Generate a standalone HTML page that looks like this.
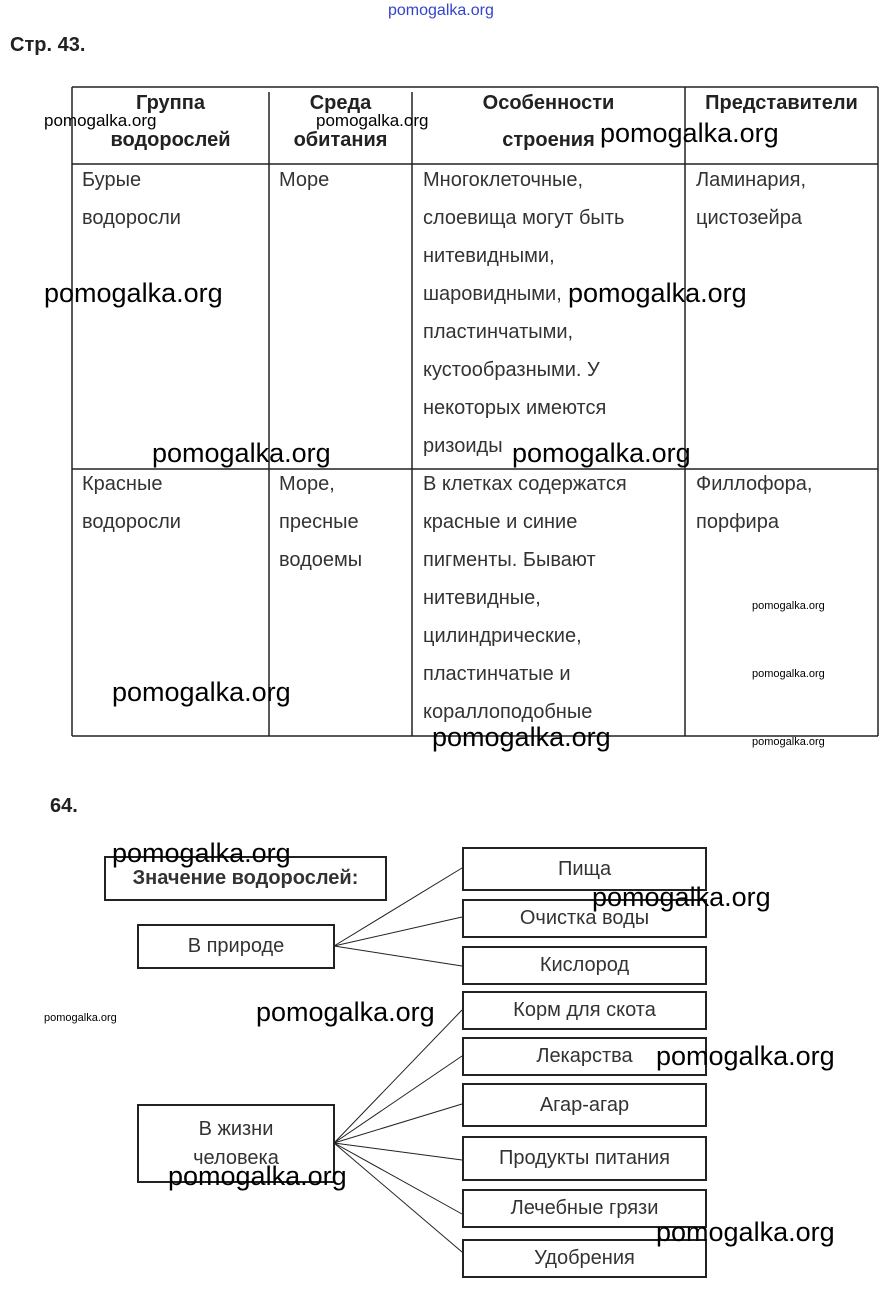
<!DOCTYPE html>
<html><head><meta charset="utf-8"><style>
body{margin:0;background:#fff;}
#p{position:relative;width:890px;height:1294px;overflow:hidden;font-family:"Liberation Sans",sans-serif;color:#222;}
.a{position:absolute;white-space:nowrap;}
.t{font-size:20px;line-height:38px;color:#333;}
.h{font-size:20px;line-height:37px;font-weight:bold;color:#222;text-align:center;}
.w{font-size:27px;color:#000;line-height:30px;}
.ws{font-size:17px;color:#000;line-height:20px;}
.wt{font-size:11px;color:#000;line-height:14px;}
.b{position:absolute;border:2px solid #222;box-sizing:border-box;font-size:20px;color:#333;display:flex;align-items:center;justify-content:center;text-align:center;}
</style></head><body><div id="p">
<div class="a" style="left:388px;top:2px;font-size:16px;color:#3344cc;">pomogalka.org</div>
<div class="a" style="left:10px;top:34px;font-size:20px;font-weight:bold;">Стр. 43.</div>

<svg class="a" style="left:0;top:0" width="890" height="800">
<g stroke="#222" stroke-width="1.5">
<line x1="72" y1="87" x2="878" y2="87"/>
<line x1="72" y1="164" x2="878" y2="164"/>
<line x1="72" y1="469" x2="878" y2="469"/>
<line x1="72" y1="736" x2="878" y2="736"/>
<line x1="72" y1="87" x2="72" y2="736"/>
<line x1="269" y1="92" x2="269" y2="736"/>
<line x1="412" y1="92" x2="412" y2="736"/>
<line x1="685" y1="87" x2="685" y2="736"/>
<line x1="878" y1="87" x2="878" y2="736"/>
</g></svg>

<div class="a h" style="left:72px;top:85px;width:197px;">Группа<br>водорослей</div>
<div class="a h" style="left:269px;top:85px;width:143px;">Среда<br>обитания</div>
<div class="a h" style="left:412px;top:85px;width:273px;">Особенности<br>строения</div>
<div class="a h" style="left:685px;top:85px;width:193px;">Представители</div>

<div class="a t" style="left:82px;top:161px;">Бурые<br>водоросли</div>
<div class="a t" style="left:279px;top:161px;">Море</div>
<div class="a t" style="left:423px;top:161px;">Многоклеточные,<br>слоевища могут быть<br>нитевидными,<br>шаровидными,<br>пластинчатыми,<br>кустообразными. У<br>некоторых имеются<br>ризоиды</div>
<div class="a t" style="left:696px;top:161px;">Ламинария,<br>цистозейра</div>

<div class="a t" style="left:82px;top:465px;">Красные<br>водоросли</div>
<div class="a t" style="left:279px;top:465px;">Море,<br>пресные<br>водоемы</div>
<div class="a t" style="left:423px;top:465px;">В клетках содержатся<br>красные и синие<br>пигменты. Бывают<br>нитевидные,<br>цилиндрические,<br>пластинчатые и<br>кораллоподобные</div>
<div class="a t" style="left:696px;top:465px;">Филлофора,<br>порфира</div>

<div class="a" style="left:50px;top:795px;font-size:20px;font-weight:bold;">64.</div>

<svg class="a" style="left:0;top:0" width="890" height="1294">
<g stroke="#222" stroke-width="1">
<line x1="334" y1="946" x2="462" y2="868"/>
<line x1="334" y1="946" x2="462" y2="917"/>
<line x1="334" y1="946" x2="462" y2="966"/>
<line x1="334" y1="1143" x2="462" y2="1010"/>
<line x1="334" y1="1143" x2="462" y2="1056"/>
<line x1="334" y1="1143" x2="462" y2="1104"/>
<line x1="334" y1="1143" x2="462" y2="1160"/>
<line x1="334" y1="1143" x2="462" y2="1214"/>
<line x1="334" y1="1143" x2="462" y2="1252"/>
</g></svg>

<div class="b" style="left:104px;top:856px;width:283px;height:45px;font-weight:bold;">Значение водорослей:</div>
<div class="b" style="left:137px;top:924px;width:198px;height:45px;">В природе</div>
<div class="b" style="left:137px;top:1104px;width:198px;height:79px;line-height:29px;">В жизни<br>человека</div>

<div class="b" style="left:462px;top:847px;width:245px;height:44px;">Пища</div>
<div class="b" style="left:462px;top:899px;width:245px;height:39px;">Очистка воды</div>
<div class="b" style="left:462px;top:946px;width:245px;height:39px;">Кислород</div>
<div class="b" style="left:462px;top:991px;width:245px;height:39px;">Корм для скота</div>
<div class="b" style="left:462px;top:1037px;width:245px;height:39px;">Лекарства</div>
<div class="b" style="left:462px;top:1083px;width:245px;height:44px;">Агар-агар</div>
<div class="b" style="left:462px;top:1136px;width:245px;height:45px;">Продукты питания</div>
<div class="b" style="left:462px;top:1189px;width:245px;height:39px;">Лечебные грязи</div>
<div class="b" style="left:462px;top:1239px;width:245px;height:39px;">Удобрения</div>

<div class="a ws" style="left:44px;top:111px;">pomogalka.org</div>
<div class="a ws" style="left:316px;top:111px;">pomogalka.org</div>
<div class="a w" style="left:600px;top:118px;">pomogalka.org</div>
<div class="a w" style="left:44px;top:278px;">pomogalka.org</div>
<div class="a w" style="left:568px;top:278px;">pomogalka.org</div>
<div class="a w" style="left:152px;top:438px;">pomogalka.org</div>
<div class="a w" style="left:512px;top:438px;">pomogalka.org</div>
<div class="a wt" style="left:752px;top:599px;">pomogalka.org</div>
<div class="a wt" style="left:752px;top:667px;">pomogalka.org</div>
<div class="a wt" style="left:752px;top:735px;">pomogalka.org</div>
<div class="a w" style="left:112px;top:677px;">pomogalka.org</div>
<div class="a w" style="left:432px;top:722px;">pomogalka.org</div>
<div class="a w" style="left:112px;top:838px;">pomogalka.org</div>
<div class="a w" style="left:592px;top:882px;">pomogalka.org</div>
<div class="a wt" style="left:44px;top:1011px;">pomogalka.org</div>
<div class="a w" style="left:256px;top:997px;">pomogalka.org</div>
<div class="a w" style="left:656px;top:1041px;">pomogalka.org</div>
<div class="a w" style="left:168px;top:1161px;">pomogalka.org</div>
<div class="a w" style="left:656px;top:1217px;">pomogalka.org</div>
</div></body></html>
